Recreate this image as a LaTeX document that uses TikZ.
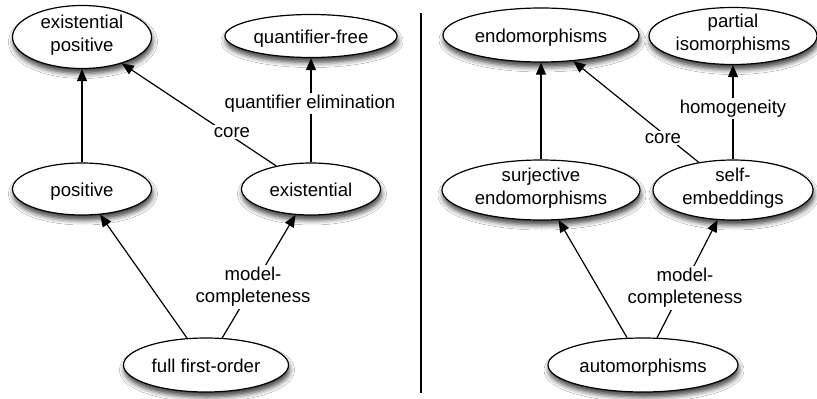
\documentclass[tikz,border=0pt]{standalone}
\usepackage{fontspec}
\setmainfont{Liberation Sans}
\usetikzlibrary{shapes.geometric,arrows.meta,shadows.blur}
\begin{document}
\begin{tikzpicture}[x=1pt,y=-1pt,
  every node/.style={font=\fontsize{18.6}{22.3}\selectfont},
  st/.style={ellipse, draw, line width=1.2pt, fill=white, inner sep=0pt, align=center,
    blur shadow={shadow xshift=1pt, shadow yshift=-5pt, shadow blur radius=5pt, shadow opacity=75}},
  one/.style={text height=17.7pt, text depth=1.9pt},
  two/.style={text height=29.9pt, text depth=1.9pt},
  arr/.style={line width=1.2pt, -{Triangle[length=12pt,width=10pt]}},
  lbl/.style={fill=white, inner sep=2pt, align=center}]
\useasboundingbox[fill=white] (0,0) rectangle (817,399);
% left half
\node[st, two, minimum width=139, minimum height=63] (ep) at (82,37) {existential\\positive};
\node[st, one, minimum width=172, minimum height=43] (qf) at (311,36) {quantifier-free};
\node[st, one, minimum width=139, minimum height=52] (pos) at (82,189) {positive};
\node[st, one, minimum width=139, minimum height=52] (ex) at (311,189) {existential};
\node[st, one, minimum width=165, minimum height=54] (ffo) at (206,365) {full first-order};
% right half
\node[st, one, minimum width=196, minimum height=54] (endo) at (541,35) {endomorphisms};
\node[st, two, minimum width=168, minimum height=57] (pi) at (733,36) {partial\\isomorphisms};
\node[st, two, minimum width=198, minimum height=60] (surj) at (541,190) {surjective\\endomorphisms};
\node[st, two, minimum width=160, minimum height=60] (self) at (733,190) {self-\\embeddings};
\node[st, one, minimum width=190, minimum height=54] (auto) at (643,365) {automorphisms};
% divider
\coordinate (dtop) at (421,13);
\coordinate (dbot) at (421,393);
\draw[line width=1.2pt] (dtop) -- (dbot);
% edges left
\draw[arr] (pos) -- (ep);
\draw[arr] (ex) -- (ep);
\draw[arr] (ex) -- (qf);
\draw[arr] (ffo) -- (pos);
\draw[arr] (ffo) -- (ex);
% edges right
\draw[arr] (surj) -- (endo);
\draw[arr] (self) -- (endo);
\draw[arr] (self) -- (pi);
\draw[arr] (auto) -- (surj);
\draw[arr] (auto) -- (self);
% labels
\node[lbl, anchor=base] (lcore) at (232,137) {core};
\node[lbl, anchor=base] (lqe) at (310,108) {quantifier elimination};
\node[lbl] (lmc) at (253,287) {model-\\completeness};
\node[lbl, anchor=base] (rcore) at (663,143) {core};
\node[lbl, anchor=base] (rhom) at (733,113) {homogeneity};
\node[lbl] (rmc) at (685,288) {model-\\completeness};
\end{tikzpicture}
\end{document}
